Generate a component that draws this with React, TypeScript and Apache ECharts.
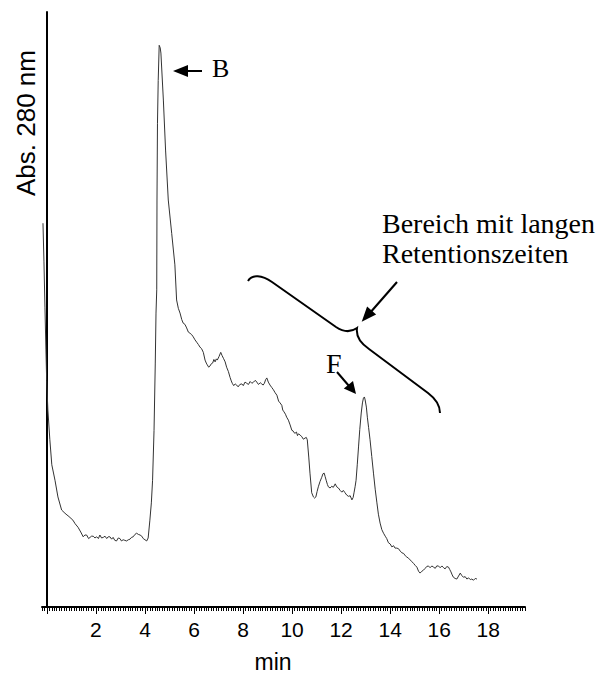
import React, { useEffect, useRef } from "react";
import * as echarts from "echarts";

// Retention time (min)
const retentionTimes: number[] = [
  -0.16, -0.12, -0.08, -0.04, -0.01, 0.04, 0.12, 0.2, 0.33, 0.45, 0.6, 0.7, 0.78, 0.9, 1.06, 1.15, 1.27, 1.38, 1.48, 1.55,
  1.62, 1.7, 1.76, 1.82, 1.89, 1.96, 2.03, 2.1, 2.16, 2.23, 2.3, 2.37, 2.44, 2.5, 2.57, 2.64, 2.7, 2.77, 2.84, 2.91,
  2.98, 3.04, 3.11, 3.18, 3.25, 3.32, 3.39, 3.45, 3.52, 3.59, 3.66, 3.73, 3.8, 3.87, 3.93, 4.0, 4.07, 4.13, 4.2, 4.26,
  4.31, 4.37, 4.42, 4.45, 4.48, 4.49, 4.51, 4.54, 4.58, 4.62, 4.65, 4.75, 4.84, 4.95, 5.09, 5.22, 5.29, 5.36, 5.43, 5.5,
  5.56, 5.63, 5.7, 5.77, 5.84, 5.9, 5.97, 6.04, 6.11, 6.18, 6.24, 6.31, 6.38, 6.45, 6.5, 6.54, 6.6, 6.65, 6.71, 6.76,
  6.81, 6.86, 6.91, 6.95, 7.02, 7.09, 7.14, 7.2, 7.27, 7.33, 7.4, 7.47, 7.52, 7.56, 7.62, 7.68, 7.74, 7.8, 7.87, 7.95,
  8.01, 8.08, 8.15, 8.22, 8.29, 8.36, 8.43, 8.5, 8.56, 8.63, 8.7, 8.76, 8.82, 8.87, 8.92, 8.97, 9.03, 9.1, 9.17, 9.24,
  9.31, 9.38, 9.45, 9.51, 9.58, 9.62, 9.67, 9.73, 9.78, 9.85, 9.92, 9.99, 10.04, 10.08, 10.12, 10.18, 10.22, 10.26, 10.33, 10.4,
  10.46, 10.53, 10.58, 10.62, 10.68, 10.73, 10.8, 10.87, 10.92, 10.97, 11.02, 11.07, 11.14, 11.21, 11.26, 11.31, 11.35, 11.39, 11.44, 11.48,
  11.55, 11.62, 11.68, 11.76, 11.82, 11.89, 11.96, 12.03, 12.09, 12.16, 12.23, 12.3, 12.37, 12.44, 12.49, 12.53, 12.57, 12.61, 12.66, 12.71,
  12.76, 12.82, 12.87, 12.91, 12.95, 12.98, 13.03, 13.07, 13.12, 13.18, 13.25, 13.32, 13.39, 13.46, 13.52, 13.59, 13.66, 13.73, 13.8, 13.86,
  13.93, 14.0, 14.07, 14.14, 14.2, 14.27, 14.34, 14.41, 14.48, 14.55, 14.62, 14.68, 14.75, 14.82, 14.89, 14.96, 15.02, 15.09, 15.16, 15.22,
  15.29, 15.36, 15.43, 15.49, 15.56, 15.63, 15.7, 15.77, 15.84, 15.9, 15.97, 16.04, 16.11, 16.18, 16.24, 16.31, 16.38, 16.43, 16.48, 16.53,
  16.58, 16.65, 16.72, 16.79, 16.86, 16.92, 16.99, 17.06, 17.13, 17.2, 17.27, 17.33, 17.4, 17.47, 17.54,
];

// Absorbance at 280 nm (arbitrary units)
const absorbance: number[] = [
  64.5, 58.0, 50.4, 43.2, 38.1, 33.1, 28.1, 23.9, 21.3, 18.5, 16.3, 15.9, 15.6, 15.2, 14.6, 14.0, 13.4, 12.6, 11.8, 12.1,
  12.1, 11.5, 11.7, 11.9, 11.9, 11.6, 11.8, 11.5, 12.1, 11.6, 11.7, 11.9, 11.5, 11.8, 11.8, 11.4, 11.7, 11.2, 11.1, 11.6,
  11.5, 11.1, 11.3, 11.2, 11.1, 11.3, 11.4, 11.7, 11.8, 12.2, 12.4, 12.2, 12.1, 11.9, 11.5, 11.3, 11.1, 11.6, 14.6, 17.5,
  21.3, 29.7, 41.0, 49.4, 53.3, 68.4, 81.3, 88.5, 94.4, 94.0, 93.1, 85.2, 76.8, 68.4, 62.8, 57.5, 51.6, 50.2, 49.4, 48.3,
  47.7, 47.5, 46.9, 46.2, 46.0, 45.8, 45.4, 44.9, 44.5, 44.1, 43.7, 43.4, 42.8, 41.5, 41.0, 40.7, 40.3, 40.5, 40.9, 41.0,
  41.6, 41.2, 41.7, 41.5, 42.1, 42.8, 42.3, 41.8, 41.2, 40.3, 39.6, 38.6, 38.0, 37.6, 37.2, 37.5, 37.3, 37.0, 37.4, 37.5,
  37.2, 37.8, 37.6, 37.4, 37.9, 37.6, 37.8, 38.1, 37.8, 37.4, 37.7, 37.5, 37.3, 37.6, 38.2, 38.5, 37.8, 37.3, 36.9, 36.5,
  36.0, 35.6, 34.6, 34.3, 33.9, 33.1, 32.8, 32.4, 31.9, 31.4, 30.6, 29.7, 29.6, 29.3, 29.2, 29.4, 28.8, 29.1, 28.9, 28.6,
  28.2, 28.4, 28.5, 28.1, 25.2, 22.5, 19.2, 18.5, 18.3, 18.5, 19.4, 20.2, 21.1, 21.8, 22.4, 22.5, 21.9, 21.3, 20.6, 20.2,
  20.0, 20.3, 20.1, 20.7, 20.2, 20.0, 19.6, 19.3, 19.6, 19.2, 18.8, 18.6, 18.7, 18.0, 18.4, 19.3, 20.2, 21.3, 24.0, 26.9,
  29.8, 32.6, 34.3, 35.1, 35.3, 34.8, 33.6, 31.9, 30.2, 28.1, 25.3, 22.5, 19.8, 17.5, 15.6, 14.1, 13.0, 12.4, 11.9, 11.5,
  10.8, 10.6, 10.1, 10.3, 9.9, 9.9, 9.8, 9.4, 9.1, 9.0, 8.6, 8.4, 8.2, 7.9, 7.6, 7.3, 7.0, 6.7, 6.0, 5.7,
  6.0, 6.2, 6.5, 6.8, 6.9, 6.6, 6.9, 6.7, 6.5, 6.9, 6.9, 6.6, 6.9, 6.6, 6.4, 6.8, 6.7, 6.3, 5.9, 5.4,
  5.0, 4.8, 4.7, 5.2, 5.7, 5.3, 5.0, 5.1, 4.7, 4.9, 4.6, 4.7, 4.5, 4.8, 4.7,
];

const tickLabels: number[] = [2, 4, 6, 8, 10, 12, 14, 16, 18];
const majorTicks: number[] = [0, 2, 4, 6, 8, 10, 12, 14, 16, 18];

const X_MIN = -0.2;
const X_MAX = 19.5;
const minorTicks: number[] = [];
for (let i = 0; i <= 197; i++) minorTicks.push(Math.round((X_MIN + i * 0.1) * 10) / 10);

const SERIF = "'Liberation Serif', 'Times New Roman', serif";
const SANS = "'Liberation Sans', Arial, sans-serif";

const braceD =
  "M248,281 C252,274 262,275 272,282 L336,327 C342,331 350,333 357,328 C356,335 360,343 369,349 L428,393 C436,399 440,405 440,413";

let registered = false;

export default function App() {
  const ref = useRef<HTMLDivElement>(null);

  useEffect(() => {
    if (!ref.current) return;
    if (!registered) {
      echarts.graphic.registerShape("brace", echarts.graphic.extendPath(braceD, {}));
      registered = true;
    }
    const chart = echarts.init(ref.current, null, { renderer: "svg" });
    const data = retentionTimes.map((t, i) => [t, absorbance[i]]);

    chart.setOption({
      animation: false,
      backgroundColor: "#fff",
      grid: { left: 42, right: 81, top: 12, bottom: 68 },
      xAxis: [
        {
          type: "value",
          position: "bottom",
          min: X_MIN,
          max: X_MAX,
          axisLine: { show: true, lineStyle: { color: "#000", width: 2 } },
          axisTick: { show: true, customValues: minorTicks, length: 4, lineStyle: { color: "#000", width: 1 } },
          axisLabel: {
            show: true,
            customValues: tickLabels,
            fontSize: 21,
            color: "#000",
            fontFamily: SANS,
            margin: 12,
          },
          splitLine: { show: false },
        },
        {
          type: "value",
          position: "bottom",
          min: X_MIN,
          max: X_MAX,
          axisLine: { show: false },
          axisTick: { show: true, customValues: majorTicks, length: 7, lineStyle: { color: "#000", width: 1 } },
          axisLabel: { show: false },
          splitLine: { show: false },
        },
      ],
      yAxis: {
        type: "value",
        min: 0,
        max: 100,
        axisLine: { show: true, lineStyle: { color: "#000", width: 2 } },
        axisTick: { show: false },
        axisLabel: { show: false },
        splitLine: { show: false },
      },
      series: [
        {
          type: "line",
          xAxisIndex: 0,
          data,
          showSymbol: false,
          symbol: "none",
          lineStyle: { color: "#333", width: 1 },
        },
      ],
      graphic: [
        {
          type: "text",
          x: 26,
          y: 123,
          rotation: Math.PI / 2,
          style: {
            text: "Abs. 280 nm",
            font: `26px ${SANS}`,
            fill: "#000",
            align: "center",
            verticalAlign: "middle",
          },
        },
        {
          type: "text",
          x: 273,
          y: 662,
          style: { text: "min", font: `23px ${SANS}`, fill: "#000", align: "center", verticalAlign: "middle" },
        },
        // B label + arrow
        {
          type: "line",
          shape: { x1: 202, y1: 71, x2: 186, y2: 71 },
          style: { stroke: "#000", lineWidth: 2 },
        },
        {
          type: "polygon",
          shape: { points: [[173, 71], [188, 65], [188, 77]] },
          style: { fill: "#000" },
        },
        {
          type: "text",
          x: 212,
          y: 68,
          style: { text: "B", font: `26px ${SERIF}`, fill: "#000", align: "left", verticalAlign: "middle" },
        },
        // F label + arrow
        {
          type: "text",
          x: 326,
          y: 363,
          style: { text: "F", font: `28px ${SERIF}`, fill: "#000", align: "left", verticalAlign: "middle" },
        },
        {
          type: "line",
          shape: { x1: 337, y1: 372, x2: 349, y2: 386 },
          style: { stroke: "#000", lineWidth: 2 },
        },
        {
          type: "polygon",
          shape: { points: [[356, 394], [353, 380.9], [343.8, 388.5]] },
          style: { fill: "#000" },
        },
        // Region label
        {
          type: "text",
          x: 382,
          y: 223,
          style: {
            text: "Bereich mit langen",
            font: `28px ${SERIF}`,
            fill: "#000",
            align: "left",
            verticalAlign: "middle",
          },
        },
        {
          type: "text",
          x: 382,
          y: 253,
          style: {
            text: "Retentionszeiten",
            font: `28px ${SERIF}`,
            fill: "#000",
            align: "left",
            verticalAlign: "middle",
          },
        },
        {
          type: "line",
          shape: { x1: 397, y1: 282, x2: 369, y2: 314 },
          style: { stroke: "#000", lineWidth: 2 },
        },
        {
          type: "polygon",
          shape: { points: [[361.7, 321.7], [376.1, 314.4], [367.1, 306.4]] },
          style: { fill: "#000" },
        },
        {
          type: "brace",
          x: 0,
          y: 0,
          style: { stroke: "#000", lineWidth: 2, fill: null },
        },
      ],
    });

    return () => chart.dispose();
  }, []);

  return (
    <div
      ref={ref}
      style={{ position: "fixed", left: 0, top: 0, width: 606, height: 675, background: "#fff" }}
    />
  );
}
